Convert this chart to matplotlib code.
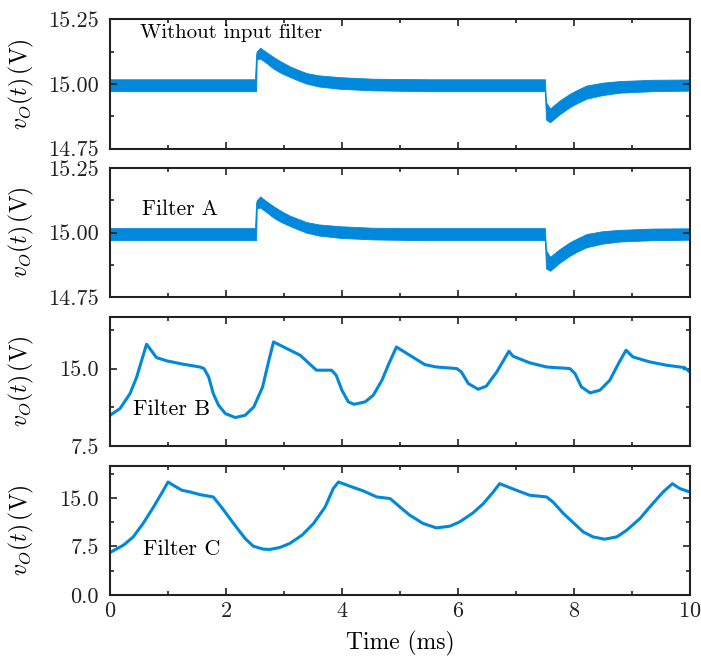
import matplotlib
matplotlib.use('Agg')
import matplotlib.pyplot as plt
from matplotlib.ticker import MultipleLocator, FormatStrFormatter

plt.rcParams['font.family'] = 'cmr10'
plt.rcParams['mathtext.fontset'] = 'cm'
plt.rcParams['axes.formatter.use_mathtext'] = True
plt.rcParams['font.size'] = 16

BLUE = '#0089dc'

# envelopes of the switching ripple band (no input filter / filter A)
t_env = [0.0, 2.50, 2.52, 2.53, 2.59, 2.70, 2.82, 2.95, 3.10, 3.25, 3.39, 3.60, 3.97,
         4.54, 5.50, 7.50, 7.52, 7.59, 7.75, 7.93, 8.05, 8.22, 8.50, 8.79, 9.36, 10.0]
nofilt_upper = [15.018, 15.018, 15.115, 15.125, 15.140, 15.122, 15.104, 15.086, 15.068,
                15.054, 15.042, 15.033, 15.026, 15.020, 15.018, 15.018, 14.930, 14.905,
                14.935, 14.962, 14.976, 14.994, 15.005, 15.011, 15.016, 15.017]
nofilt_lower = [14.972, 14.972, 14.972, 15.095, 15.098, 15.080, 15.059, 15.042, 15.027,
                15.013, 15.001, 14.990, 14.981, 14.975, 14.972, 14.972, 14.862, 14.852,
                14.882, 14.910, 14.925, 14.943, 14.957, 14.966, 14.972, 14.974]
filtA_upper = [15.018, 15.018, 15.115, 15.125, 15.140, 15.121, 15.102, 15.084, 15.066,
               15.053, 15.041, 15.032, 15.025, 15.019, 15.018, 15.018, 14.932, 14.907,
               14.936, 14.963, 14.977, 14.995, 15.006, 15.011, 15.016, 15.017]
filtA_lower = [14.971, 14.971, 14.971, 15.094, 15.097, 15.079, 15.058, 15.041, 15.026,
               15.012, 15.000, 14.989, 14.980, 14.974, 14.971, 14.971, 14.862, 14.853,
               14.883, 14.911, 14.926, 14.944, 14.958, 14.966, 14.971, 14.973]

# filter B output
t_b = [0.0, 0.172, 0.345, 0.46, 0.546, 0.63, 0.80, 0.98, 1.26, 1.55, 1.62, 1.70, 1.78,
       1.87, 1.99, 2.16, 2.33, 2.48, 2.63, 2.74, 2.82, 3.28, 3.56, 3.82, 3.90, 4.00,
       4.11, 4.21, 4.40, 4.54, 4.69, 4.81, 4.94, 5.17, 5.43, 5.63, 5.98, 6.06, 6.18,
       6.35, 6.49, 6.67, 6.88, 6.95, 7.24, 7.53, 7.93, 8.02, 8.13, 8.28, 8.45, 8.62,
       8.77, 8.90, 9.02, 9.31, 9.60, 9.91, 10.0]
v_b = [10.49, 11.14, 12.59, 14.19, 15.80, 17.35, 16.06, 15.74, 15.42, 15.15, 15.00,
       14.20, 12.59, 11.47, 10.65, 10.27, 10.49, 11.30, 13.20, 15.80, 17.57, 16.28,
       14.84, 14.84, 14.36, 12.90, 11.78, 11.55, 11.78, 12.42, 13.87, 15.48, 17.08,
       16.28, 15.38, 15.15, 15.00, 14.67, 13.55, 13.00, 13.30, 14.67, 16.67, 16.19,
       15.55, 15.15, 15.00, 14.52, 13.23, 12.65, 12.91, 13.87, 15.48, 16.77, 16.12,
       15.64, 15.32, 15.09, 14.67]

# filter C output
t_c = [0.0, 0.23, 0.40, 0.57, 0.75, 0.92, 1.00, 1.09, 1.24, 1.38, 1.55, 1.78, 1.92,
       2.13, 2.33, 2.47, 2.64, 2.76, 2.93, 3.10, 3.31, 3.51, 3.71, 3.85, 3.94, 4.14,
       4.37, 4.60, 4.83, 5.00, 5.17, 5.40, 5.63, 5.86, 6.03, 6.26, 6.44, 6.61, 6.72,
       7.01, 7.24, 7.53, 7.64, 7.82, 8.16, 8.33, 8.53, 8.74, 8.91, 9.14, 9.31, 9.54,
       9.70, 9.83, 10.0]
v_c = [6.58, 7.70, 8.98, 11.05, 13.60, 16.18, 17.46, 16.95, 16.18, 15.92, 15.51,
       15.15, 13.60, 11.05, 8.73, 7.55, 7.09, 7.04, 7.35, 7.97, 9.24, 11.05, 13.60,
       16.44, 17.46, 16.80, 16.07, 15.15, 14.90, 13.60, 12.33, 11.05, 10.37, 10.63,
       11.29, 12.68, 14.13, 15.92, 17.20, 16.18, 15.41, 15.15, 14.38, 12.59, 9.76,
       8.98, 8.63, 8.98, 10.00, 11.81, 13.60, 15.92, 17.20, 16.44, 15.92]


fig, axes = plt.subplots(4, 1, figsize=(7.01, 6.61), dpi=100, sharex=True)
fig.subplots_adjust(left=0.157, right=0.984, top=0.971, bottom=0.0998, hspace=0.149)

axes[0].fill_between(t_env, nofilt_lower, nofilt_upper, color=BLUE, lw=0.6)
axes[1].fill_between(t_env, filtA_lower, filtA_upper, color=BLUE, lw=0.6)
axes[2].plot(t_b, v_b, color=BLUE, lw=2.2, solid_joinstyle='round')
axes[3].plot(t_c, v_c, color=BLUE, lw=2.2, solid_joinstyle='round')

for ax in axes[:2]:
    ax.set_ylim(14.75, 15.25)
    ax.yaxis.set_major_locator(MultipleLocator(0.25))
    ax.yaxis.set_minor_locator(MultipleLocator(0.125))
    ax.yaxis.set_major_formatter(FormatStrFormatter('%.2f'))
axes[2].set_ylim(7.5, 20)
axes[3].set_ylim(0, 20)
for ax in axes[2:]:
    ax.yaxis.set_major_locator(MultipleLocator(7.5))
    ax.yaxis.set_minor_locator(MultipleLocator(3.75))
    ax.yaxis.set_major_formatter(FormatStrFormatter('%.1f'))

for ax in axes:
    ax.set_xlim(0, 10)
    ax.xaxis.set_major_locator(MultipleLocator(2))
    ax.xaxis.set_minor_locator(MultipleLocator(1))
    ax.tick_params(which='both', direction='in', top=True, right=True, width=1.2,
                   labelsize=16, colors='#222222')
    ax.tick_params(which='major', length=5, pad=5)
    ax.tick_params(axis='y', which='major', pad=8)
    ax.tick_params(which='minor', length=3)
    for sp in ax.spines.values():
        sp.set_linewidth(1.5)
        sp.set_color('#222222')
    ax.set_ylabel(r'$v_O(t)\,(\mathrm{V})$', fontsize=17)
    ax.yaxis.set_label_coords(-0.127, 0.5)

axes[0].text(0.052, 0.89, 'Without input filter', transform=axes[0].transAxes,
             va='center', ha='left', fontsize=15)
axes[1].text(0.055, 0.685, 'Filter A', transform=axes[1].transAxes,
             va='center', ha='left', fontsize=15.5)
axes[2].text(0.04, 0.285, 'Filter B', transform=axes[2].transAxes,
             va='center', ha='left', fontsize=16)
axes[3].text(0.056, 0.356, 'Filter C', transform=axes[3].transAxes,
             va='center', ha='left', fontsize=16)

axes[3].set_xlabel('Time (ms)', fontsize=17, labelpad=7)

fig.savefig('out.png', dpi=100)
